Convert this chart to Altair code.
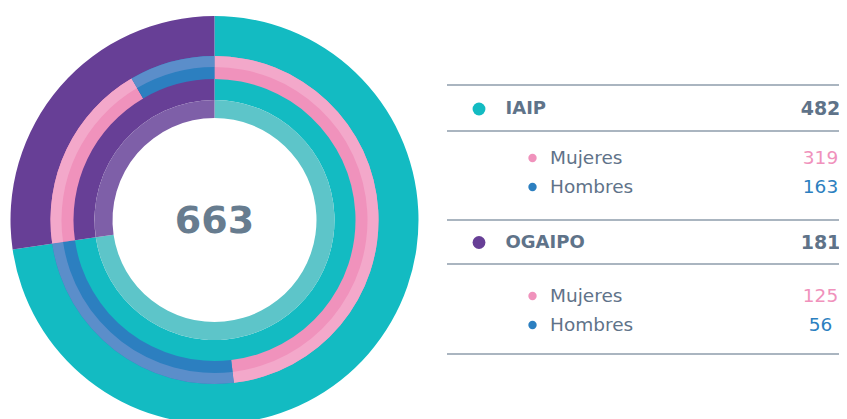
import altair as alt
import pandas as pd

# ---- data ----
groups = ["IAIP", "OGAIPO"]
group_totals = [482, 181]
sub_labels = ["Mujeres", "Hombres"]
women = [319, 125]
men = [163, 56]
total_label = "663"

# ---- styles ----
TEAL, PURPLE = "#13BBC2", "#673F96"
TEAL_L, PURPLE_L = "#5DC5C9", "#7E5FA8"
PINK, BLUE = "#F092BC", "#2C7FC0"
PINK_L, BLUE_L = "#F3A8CA", "#5B8ECA"
GREY = "#5F7389"
LINE = "#8E9CAB"
FONT = "DejaVu Sans"

W, H = 831, 411
CX, CY = 206.5, 212

xs = alt.Scale(domain=[0, W])
ys = alt.Scale(domain=[0, H], reverse=True)

g_col = [TEAL, PURPLE]
g_col_l = [TEAL_L, PURPLE_L]

ring_group = pd.DataFrame({"name": groups, "value": group_totals,
                           "color": g_col, "idx": [0, 1]})
ring_group_l = ring_group.assign(color=g_col_l)
gender_vals = [women[0], men[0], women[1], men[1]]
ring_gender = pd.DataFrame({"name": ["IAIP M", "IAIP H", "OGAIPO M", "OGAIPO H"],
                            "value": gender_vals,
                            "color": [PINK, BLUE, PINK, BLUE],
                            "idx": [0, 1, 2, 3]})
ring_gender_l = ring_gender.assign(color=[PINK_L, BLUE_L, PINK_L, BLUE_L])


def ring(df, r_out, r_in):
    return alt.Chart(df).mark_arc(radius=r_out, radius2=r_in).encode(
        theta=alt.Theta("value:Q", stack=True),
        color=alt.Color("color:N", scale=None),
        order=alt.Order("idx:Q"),
        x=alt.value(CX), y=alt.value(CY),
    )


arcs = [
    ring(ring_group, 204, 120),
    ring(ring_group_l, 120, 102),
    ring(ring_gender, 164, 141),
    ring(ring_gender_l, 164, 153),
]

center = alt.Chart(pd.DataFrame({"t": [total_label]})).mark_text(
    font=FONT, fontSize=38, fontWeight="bold", color="#677C8F",
    align="center", baseline="middle"
).encode(text="t:N", x=alt.value(CX), y=alt.value(CY + 2))

# ---- table layout ----
header_y = [101, 234.5]
sub_y = [[150, 179], [288, 317]]
line_y = [77, 123, 212, 256, 346]

lines_df = pd.DataFrame({"y": line_y, "x": [439] * 5, "x2": [W] * 5})
rules = alt.Chart(lines_df).mark_rule(color=LINE, strokeWidth=1.6).encode(
    x=alt.X("x:Q", scale=xs, axis=None),
    x2="x2:Q",
    y=alt.Y("y:Q", scale=ys, axis=None),
)

hdr = pd.DataFrame({"label": groups, "val": [str(v) for v in group_totals],
                    "y": header_y, "color": g_col,
                    "xd": [471] * 2, "xl": [497.5] * 2, "xv": [812.5] * 2})
subs_rows = []
for gi in range(len(groups)):
    for si, (lab, vals, c) in enumerate(zip(sub_labels, [women, men], [PINK, BLUE])):
        subs_rows.append({"label": lab, "val": str(vals[gi]), "y": sub_y[gi][si],
                          "color": c, "xd": 524.5, "xl": 542, "xv": 812.5})
subs = pd.DataFrame(subs_rows)

hdr_dots = alt.Chart(hdr).mark_circle(size=165, opacity=1).encode(
    x=alt.X("xd:Q", scale=xs, axis=None), y=alt.Y("y:Q", scale=ys, axis=None),
    color=alt.Color("color:N", scale=None))
hdr_lab = alt.Chart(hdr).mark_text(font=FONT, fontSize=18, fontWeight="bold",
                                   color=GREY, align="left", baseline="middle").encode(
    x=alt.X("xl:Q", scale=xs, axis=None), y=alt.Y("y:Q", scale=ys, axis=None), text="label:N")
hdr_val = alt.Chart(hdr).mark_text(font=FONT, fontSize=19, fontWeight="bold",
                                   color=GREY, align="center", baseline="middle").encode(
    x=alt.X("xv:Q", scale=xs, axis=None), y=alt.Y("y:Q", scale=ys, axis=None), text="val:N")

sub_dots = alt.Chart(subs).mark_circle(size=70, opacity=1).encode(
    x=alt.X("xd:Q", scale=xs, axis=None), y=alt.Y("y:Q", scale=ys, axis=None),
    color=alt.Color("color:N", scale=None))
sub_lab = alt.Chart(subs).mark_text(font=FONT, fontSize=18.5, fontWeight=500,
                                    color=GREY, align="left", baseline="middle").encode(
    x=alt.X("xl:Q", scale=xs, axis=None), y=alt.Y("y:Q", scale=ys, axis=None), text="label:N")
sub_val = alt.Chart(subs).mark_text(font=FONT, fontSize=18.5, fontWeight=500,
                                    align="center", baseline="middle").encode(
    x=alt.X("xv:Q", scale=xs, axis=None), y=alt.Y("y:Q", scale=ys, axis=None), text="val:N",
    color=alt.Color("color:N", scale=None))

chart = alt.layer(*arcs, center, rules, hdr_dots, hdr_lab, hdr_val,
                  sub_dots, sub_lab, sub_val).properties(
    width=W, height=H, padding=0, autosize=alt.AutoSizeParams(type="none"),
    background="white"
).configure_view(stroke=None)

chart.save("out.html", embed_options={"renderer": "svg", "actions": False})
